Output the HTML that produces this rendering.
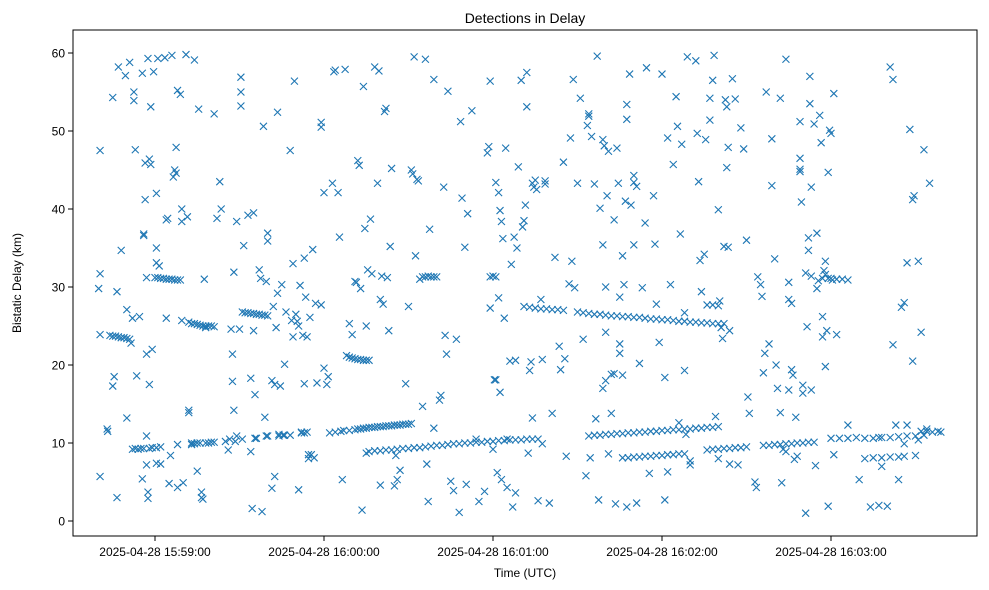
<!DOCTYPE html>
<html><head><meta charset="utf-8">
<style>
html,body{margin:0;padding:0;background:#fff;}
svg{display:block;font-family:"Liberation Sans","DejaVu Sans",sans-serif;}
</style></head>
<body>
<svg id="chart" width="989" height="590" viewBox="0 0 989 590">
<rect x="0" y="0" width="989" height="590" fill="#fff"/>
<text x="525" y="23" text-anchor="middle" font-size="14" fill="#000">Detections in Delay</text>
<g id="marks"></g>
<rect x="73" y="30" width="904" height="506" fill="none" stroke="#000" stroke-width="1"/>
<g id="yticks"></g>
<g id="xticks"></g>
<text x="525" y="577" text-anchor="middle" font-size="12" fill="#000">Time (UTC)</text>
<text x="21" y="283" text-anchor="middle" font-size="12" fill="#000" transform="rotate(-90 21 283)">Bistatic Delay (km)</text>
</svg>
<script>
// time in seconds relative to 2025-04-28 15:59:00 UTC, delay in km
const xTickValues = [0, 60, 120, 180, 240];
const xTickLabels = ["2025-04-28 15:59:00","2025-04-28 16:00:00","2025-04-28 16:01:00","2025-04-28 16:02:00","2025-04-28 16:03:00"];
const yTickValues = [0, 10, 20, 30, 40, 50, 60];
const yTickLabels = ["0","10","20","30","40","50","60"];
const scatterPoints = [
[-20,29.8],[-19.5,31.7],[-19.5,47.5],[-19.5,23.9],[-19.5,5.7],[-17,11.8],[-16.8,11.5],[-15,54.3],[-15,17.3],[-14.5,18.5],[-13.5,29.4],[-13.5,3],[-13,58.2],[-12,34.7],[-10.5,57.1],[-10,27.1],[-10,13.2],[-9,58.8],[-8,26],[-7.5,55],[-7.5,53.9],[-7,47.6],[-6.5,18.6],[-5.5,26.2],[-4.5,57.4],[-4.5,5.4],[-4,36.8],[-4,36.6],[-3.5,41.2],[-3.5,45.9],[-3,21.4],[-3,10.9],[-3,7.2],[-2.5,59.3],[-2.5,3.7],[-2.5,2.9],[-2,46.4],[-2,17.5],[-1.5,53.1],[-1,22],[-1.5,45.7],[-0.5,57.6],[0.5,42],[0.5,35],[0.5,33.1],[0.5,7.4],[1,59.3],[1.5,32.7],[2,7.3],[2,9.5],
[3.5,59.4],[4,26],[4,38.6],[4.5,38.8],[5,4.8],[5.5,8.4],[6,59.7],[6.5,44.1],[7,45],[7.5,44.6],[7.5,47.9],[8,55.2],[8,4.3],[8,9.8],[9,54.7],[9.5,40],[9.5,25.7],[9.5,38.4],[10,4.9],[11,59.8],[11.5,39],[12,14.2],[12,13.9],[13,10],[14,59.1],[15,6.4],[15.5,52.8],[16.5,3],[16.5,3.7],[17,2.8],[17.5,31],[18,24.8],[21,52.2],[22,38.8],[23,43.5],[23.5,40],[25,10.2],[26,9.1],[26.5,10.5],[27,24.6],
[27.5,21.4],[27.5,17.9],[28,14.2],[28,31.9],[28.5,10.2],[29,10.9],[29,38.4],[30,24.6],[30.5,55],[30.5,56.9],[30.5,53.2],[31,10.5],[31.5,35.3],[33,39.2],[34,18.3],[34,8.9],[34.5,1.6],[35,39.5],[35,24.4],[35.5,10.6],[35.5,16.2],[36,10.6],[37,32.2],[37.5,31.1],[38,1.2],[38.5,50.6],[39,13.3],[39.5,30.7],[39.5,10.9],[40,36.9],[40,35.9],[40,10.9],[41.5,18],[41.5,4.2],[42,27.5],[42.5,5.7],[42.5,17.5],[43,24.8],[43.5,29.2],[43.5,52.4],[44,11.1],[44.5,17.3],[45,30.3],[45.5,11],[46,20.1],[46.5,26.8],[48,47.5],[48.5,25.7],[49,33],[49,23.6],[49.5,56.4],[50,26.5],[50.5,25.6],[51,25],[51,4],[51.5,30.2],[52,11.4],[52.5,23.8],[53,33.7],[53.5,28.7],[53,17.6],[54,23.6],[54.5,8],[54.5,8.5],[55,26.1],[55.5,8.5],[56,34.8],[56.5,8.1],[57,27.9],[57.5,17.7],[59,27.7],[59,51.1],[59,50.5],[60,42.1],[60,19.6],[61,17.5],[61.5,18.5],
[63,43.3],[63.5,57.6],[64,57.8],[65,42.1],[65.5,36.4],[66.5,5.3],[67.5,57.9],[69,25.3],[70,23.9],[71,30.7],[71.5,30.6],[72,46.2],[72.5,45.6],[73,29.8],[73.5,1.4],[74,55.7],[74.5,37.5],[75,25],[75,8.7],[75.5,32.2],[76.5,38.7],[77,31.7],[78,58.2],[79,43.3],[79.5,57.7],[80,28.4],[80,4.6],[80.5,31.4],[81,27.8],[81.5,52.5],[82,52.9],[82.5,31.2],[83,24.4],[83.5,35.2],[84,45.2],[85,4.5],[85.5,8.4],[86,5.3],[87,6.5],[89,17.6],[90,27.5],[91,45],[91.5,44.5],[92,59.5],[92.5,34],[93,43.8],[93.5,43.6],[94,31],[95,14.7],[96,59.2],[96.5,7.3],[97,2.5],[97.5,37.4],
[99,56.6],[99,11.9],[101,15.5],[101.5,16.1],[102.5,42.8],[103,23.8],[103.5,21.4],[104,55.1],[105,5.1],[106,3.9],[107,23.3],[108,1.1],[108.5,51.2],[109,41.4],[110,35.1],[110.5,4.7],[111,39.4],[112.5,52.6],[114,10.5],[115,2.5],[117,3.8],[118,47.2],[118.5,48],[119,27.3],[119,56.4],[119,31.3],[120,31.4],[120,9.2],[120.5,18.1],[121,43.4],[121,18.1],[121.5,6.2],[122,42.1],[122,28.6],[122.5,16.5],[122.5,39.8],[123,38.4],[123,5.3],[123.5,36.2],[124,26],[124.5,47.8],[125,4.3],[125,10.5],[126,20.5],[126.5,32.9],[127,1.8],[127.5,36.4],[128,20.6],[128,3.6],[128.5,35],[129,45.4],[130,56.5],[130.5,37.7],[131,38.5],[131.5,40.5],[132,57.5],[132,53.1],[132.5,8.7],[133,19.3],[133.5,20.4],[134,13.2],
[134,43.3],[134.5,42.8],[135,43.7],[135.5,42.5],[136,2.6],[137,28.4],[137.5,20.7],[137.5,9.9],[138.5,43.6],[138.5,43.2],[140,2.3],[141,13.8],[142,33.8],[143.5,22.4],[144,19.4],[145,46],[145.5,20.8],[146,8.3],[147,30.4],[147.5,49.1],[148,33.3],[148.5,56.6],[149,29.9],[150,43.3],[151,54.2],[152,23.3],[153,5.8],[153.5,50.7],[154,52.2],[154,51.9],[154.5,8.1],[155,49.3],[156,43.2],[156.5,13.1],[157,59.6],[157.5,2.7],[158,40.1],[159,48.9],[159,35.4],[159,17],[159.5,48.1],[160,30],[160,24.2],[160,18],[160.5,41.7],[161,47.4],[161,8.6],[162,18.8],[162,13.8],[163,38.6],[163,18.9],[163.5,2.2],[164,47.8],[164.5,43.3],[165,22.7],[165,21.5],[165,28.7],[166,34],[166,18.7],[166.5,30.3],[167,41],[167.5,53.4],[167.5,51.5],[167.5,1.8],[168.5,57.3],[169,40.5],[170,35.4],[170,44.3],[170,43.4],[171,42.9],[171,2.3],[172,20.2],
[173,29.9],[174,38.2],[174.5,58.1],[175.5,6.1],[177,41.7],[177.5,35.5],[178,27.8],[179,22.9],[180,57.3],[181,18.4],[181,2.7],[182,49.1],[182,6.3],[183,30.3],[184,45.7],[185,54.4],[185.5,50.6],[186,12.6],[186.5,36.8],[187,48.3],[188,26.7],[188,19.3],[188.5,11.1],[189,59.5],[190,7.2],[190,7.7],[192,59],[192.5,49.7],[193,43.5],[193.5,33.4],[194,29.4],[195,34.2],[195.5,48.9],[197,51.4],[197,54.2],[198,56.5],[198.5,59.7],[199,13.4],[200,39.9],[200,8],[200.5,28.2],[201,24.8],[201.5,23.4],[202,35.2],[202.5,54],[203,53.1],[203,45.3],[203.5,47.9],[203.5,35.1],[204,24.4],[204,7.3],[205,56.7],[206,54.1],[207,7.2],
[208,50.4],[209,47.7],[210,36],[210.5,15.9],[211,13.8],[213,5],[213.5,4.3],[214,31.3],[215,30.3],[215.5,28.8],[216,19],[216.5,21.5],[217,55],[218,22.7],[219,43],[219,49],[220,33.6],[220.5,20],[221,17],[222,54.2],[222,13.9],[222.5,4.9],[223,9.2],[224,59.2],[224,8.9],[225,30.6],[225,28.4],[225,16.8],[226,27.9],[226,19.4],[226.5,18.7],[227,7.9],[227.5,13.3],[228,8.3],[229,51.2],[229,46.5],[229,45.1],[229,44.8],[229.5,40.9],[230,17.4],[230,16.4],[231,1],[231,31.8],[231.5,24.9],[232,36.3],[232,34.7],[232.5,53.5],[232.5,57],[233,42.8],[233,31.4],[233,16.8],[234,50.9],[234.5,7.1],[235,36.9],[235,29.8],[235.5,30.8],[236,52],[236.5,48.5],[237,26.2],[237,23.6],[237.5,32.1],[238,33.3],[238,31.6],[238,19.8],[238.5,24.4],[239,44.7],[239,1.9],[239.5,50.1],[240,49.7],[240.5,30.9],[241,54.8],[241,8.5],
[242,23.9],[246,12.3],[250,5.3],[257,10.7],[258,7],[261,58.2],[262,56.6],[262,22.6],[263,12.3],[264,5.3],[265,27.4],[266,28],[266,9.9],[267,33.1],[267,12.3],[268,50.2],[269,41.2],[269.5,41.7],[269,20.5],[270,8.4],[271,33.3],[271,10.4],[273,47.6],[272,24.2],[275,43.3],[274,11.8],[260,1.9],[257,2],[254,1.8]
];
const trackPoints = [
[-16,23.8],[-15,23.7],[-14,23.7],[-13,23.6],[-12,23.5],[-11,23.5],[-10,23.4],[-9,23.3],[-8.5,22.8],
[-8,9.2],[-7,9.3],[-6,9.2],[-5,9.3],[-4,9.3],[-2,9.3],[-1,9.4],[0.5,9.4],
[-3,31.2],[0,31.2],[1,31.2],[2,31.1],[3,31.1],[4,31],[5,31],[6,31],[7,30.9],[8,30.9],[9,30.9],
[13,9.8],[14,9.9],[15,10],[16,10],[18,10],[19,10],[20,10.1],[21,10.1],
[12,25.5],[13,25.3],[14,25.3],[15,25.2],[16,25.1],[17,25],[18,25],[19,25],[20,25],[21,24.9],
[31,26.8],[32,26.7],[33,26.7],[34,26.6],[35,26.6],[36,26.5],[37,26.5],[38,26.4],[39,26.4],[40,26.3],
[44,10.9],[46,11],[48,11],[52,11.3],[53,11.3],[54,11.4],
[68,21.2],[69,21],[70,20.9],[71,20.8],[72,20.7],[73,20.7],[74,20.6],[75,20.6],[76,20.6],
[62,11.3],[64,11.4],[66,11.5],[67,11.6],[69,11.6],[71,11.7],[72,11.8],[73,11.8],[74,11.9],[75,11.9],[76,12],[77,12],[78,12],[79,12.1],[80,12.1],[81,12.1],[82,12.2],[83,12.2],[84,12.2],[85,12.3],[86,12.3],[87,12.3],[88,12.4],[89,12.4],[90,12.4],[91,12.5],
[76,8.9],[78,9],[80,9],[82,9.1],[84,9.1],[86,9.2],[88,9.3],[90,9.3],[92,9.4],[94,9.4],[96,9.5],[98,9.6],[100,9.7],[102,9.7],[104,9.8],[106,9.9],[108,9.9],[110,10],[112,10],[114,10.1],[116,10.1],[118,10.2],[120,10.2],[122,10.3],[124,10.3],[126,10.4],[128,10.4],[130,10.4],[132,10.5],[134,10.5],[136,10.5],
[95,31.3],[96,31.3],[97,31.4],[98,31.3],[99,31.3],[100,31.3],[121,31.3],
[131,27.5],[133,27.4],[135,27.3],[137,27.2],[139,27.2],[141,27.1],[143,27.1],[145,27],[150,26.8],[152,26.7],[154,26.6],[156,26.5],[158,26.5],[160,26.4],[162,26.3],[164,26.3],[166,26.2],[168,26.2],[170,26.1],[172,26.1],[174,26],[176,25.9],[178,25.9],[180,25.8],[182,25.8],[184,25.7],[186,25.6],[188,25.6],[190,25.5],[192,25.5],[194,25.4],[196,25.4],[198,25.3],[200,25.3],[202,25.3],
[154,10.9],[156,11],[158,11],[160,11.1],[162,11.1],[164,11.2],[166,11.2],[168,11.3],[170,11.3],[172,11.4],[174,11.4],[176,11.5],[178,11.5],[180,11.6],[182,11.6],[184,11.7],[186,11.7],[188,11.8],[190,11.8],[192,11.9],[194,11.9],[196,12],[198,12],[200,12.1],
[166,8.1],[168,8.1],[170,8.2],[172,8.2],[174,8.3],[176,8.3],[178,8.4],[180,8.4],[182,8.5],[184,8.5],[186,8.6],[188,8.6],
[196,9.1],[198,9.2],[200,9.2],[202,9.3],[204,9.3],[206,9.4],[208,9.4],[210,9.5],
[216,9.7],[218,9.7],[220,9.8],[222,9.8],[224,9.9],[226,9.9],[228,10],[230,10],[232,10.1],[234,10.1],
[237,31.1],[239,31.1],[240,31.1],[242,31],[244,31],[246,30.9],
[240,10.6],[243,10.6],[246,10.6],[249,10.7],[252,10.6],[255,10.6],[258,10.7],[261,10.7],[264,10.8],[267,10.9],[270,10.9],[273,11],
[252,8],[255,8.1],[258,8.1],[261,8.2],[264,8.2],[266,8.3],
[272,11.5],[274,11.5],[276,11.4],[278,11.5],[279,11.4],
[196,27.7],[198,27.7],[200,27.6]
];

const NS = "http://www.w3.org/2000/svg";
function xScale(t){ return 155 + (t - 0) * (831 - 155) / 240; }
function yScale(d){ return 521 - d * (521 - 53) / 60; }

const marks = document.getElementById('marks');
function drawX(p){
  const cx = xScale(p[0]), cy = yScale(p[1]), r = 3.5;
  const path = document.createElementNS(NS, 'path');
  path.setAttribute('d', `M${cx-r},${cy-r}L${cx+r},${cy+r}M${cx-r},${cy+r}L${cx+r},${cy-r}`);
  path.setAttribute('stroke', '#1f77b4');
  path.setAttribute('stroke-width', '1.1');
  path.setAttribute('fill', 'none');
  
  
  marks.appendChild(path);
}
scatterPoints.forEach(drawX);
trackPoints.forEach(drawX);

const yg = document.getElementById('yticks');
yTickValues.forEach((v, i) => {
  const y = yScale(v);
  const ln = document.createElementNS(NS, 'line');
  ln.setAttribute('x1', 68); ln.setAttribute('x2', 73);
  ln.setAttribute('y1', y); ln.setAttribute('y2', y);
  ln.setAttribute('stroke', '#000');
  
  
  yg.appendChild(ln);
  const tx = document.createElementNS(NS, 'text');
  tx.setAttribute('x', 65); tx.setAttribute('y', y + 4.5);
  tx.setAttribute('text-anchor', 'end');
  tx.setAttribute('font-size', '12');
  tx.textContent = yTickLabels[i];
  
  
  yg.appendChild(tx);
});
const xg = document.getElementById('xticks');
xTickValues.forEach((v, i) => {
  const x = xScale(v);
  const ln = document.createElementNS(NS, 'line');
  ln.setAttribute('x1', x); ln.setAttribute('x2', x);
  ln.setAttribute('y1', 536); ln.setAttribute('y2', 541);
  ln.setAttribute('stroke', '#000');
  
  
  xg.appendChild(ln);
  const tx = document.createElementNS(NS, 'text');
  tx.setAttribute('x', x); tx.setAttribute('y', 556);
  tx.setAttribute('text-anchor', 'middle');
  tx.setAttribute('font-size', '12');
  tx.textContent = xTickLabels[i];
  
  
  xg.appendChild(tx);
});
</script>
</body></html>
